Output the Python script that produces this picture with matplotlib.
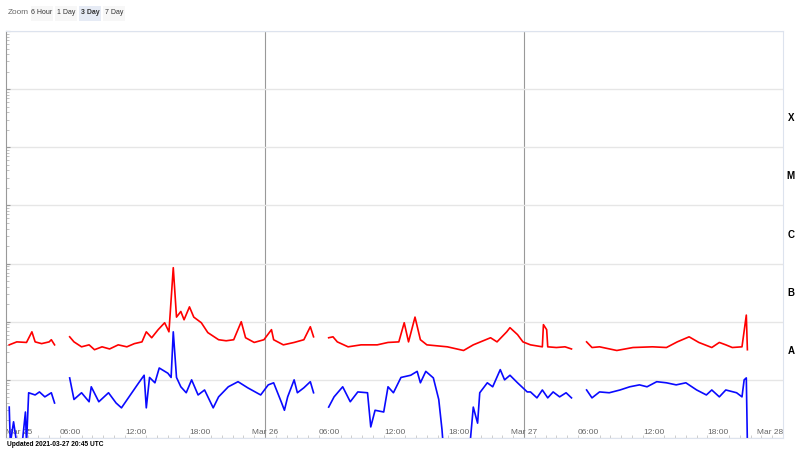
import numpy as np
import matplotlib
matplotlib.use("Agg")
import matplotlib.pyplot as plt
from matplotlib.patches import FancyBboxPatch
from matplotlib.ticker import FixedLocator, LogLocator, NullFormatter

plt.rcParams['font.family'] = ['Liberation Sans', 'DejaVu Sans']

# hours since Mar 25 00:00 UTC, flux in W/m^2 (nan = data gap)
red_hours = [0.3, 1.0, 1.9, 2.4, 2.7, 3.3, 4.0, 4.2, 4.5, 5.2,
             5.9, 6.3, 7.0, 7.7, 8.2, 8.9, 9.6, 10.4, 11.2, 11.9, 12.6, 13.0, 13.5, 14.1,
             14.7, 15.1, 15.5, 15.8, 16.2, 16.5, 17.0, 17.4, 18.1, 18.7, 19.7, 20.4, 21.1,
             21.8, 22.2, 23.0, 23.9, 24.6, 24.8, 25.7, 26.7, 27.6, 28.2, 28.5, 29.2,
             29.9, 30.3, 30.7, 31.7, 32.9, 34.4, 35.4, 36.4, 36.9, 37.3, 37.9, 38.4, 39.0,
             40.9, 42.4, 43.3, 44.9, 45.5, 46.4, 46.7, 47.4, 47.9, 48.6, 49.7, 49.8, 50.1,
             50.2, 51.0, 51.8, 52.4, 53.1,
             53.8, 54.3, 55.0, 56.6, 58.1, 59.9, 61.2, 62.2, 63.3, 64.2, 65.4, 66.1, 66.7,
             67.3, 68.2, 68.6, 68.7]
red_flux = [4.0e-8, 4.5e-8, 4.4e-8, 6.7e-8, 4.5e-8, 4.2e-8, 4.5e-8, 4.9e-8, 4.0e-8, np.nan,
            5.5e-8, 4.5e-8, 3.7e-8, 4.0e-8, 3.3e-8, 3.7e-8, 3.4e-8, 4.0e-8, 3.7e-8, 4.2e-8, 4.5e-8, 6.7e-8, 5.3e-8, 7.3e-8,
            9.6e-8, 6.7e-8, 8.5e-7, 1.2e-7, 1.5e-7, 1.08e-7, 1.8e-7, 1.2e-7, 9.6e-8, 6.5e-8, 4.9e-8, 4.7e-8, 4.9e-8,
            1.0e-7, 5.3e-8, 4.4e-8, 4.9e-8, 7.3e-8, 4.9e-8, 4.0e-8, 4.4e-8, 4.9e-8, 8.2e-8, 5.5e-8, np.nan,
            5.3e-8, 5.5e-8, 4.5e-8, 3.7e-8, 4.0e-8, 4.0e-8, 4.4e-8, 4.5e-8, 9.6e-8, 4.5e-8, 1.2e-7, 4.9e-8, 4.0e-8,
            3.7e-8, 3.2e-8, 4.0e-8, 5.3e-8, 4.5e-8, 6.7e-8, 7.9e-8, 6.0e-8, 4.5e-8, 4.0e-8, 3.7e-8, 8.9e-8, 7.3e-8,
            3.7e-8, 3.6e-8, 3.7e-8, 3.4e-8, np.nan,
            4.5e-8, 3.6e-8, 3.7e-8, 3.2e-8, 3.6e-8, 3.7e-8, 3.6e-8, 4.5e-8, 5.5e-8, 4.4e-8, 3.6e-8, 4.4e-8, 4.0e-8,
            3.6e-8, 3.7e-8, 1.3e-7, 3.3e-8]

blue_hours = [0.3, 0.4, 0.7, 1.0, 1.5, 1.8, 1.9, 2.1, 2.7, 3.1, 3.6, 4.2, 4.5, 5.2,
              5.9, 6.3, 7.0, 7.7, 7.9, 8.6, 9.5, 10.2, 10.7, 11.4, 12.3, 12.8, 13.0, 13.3,
              13.8, 14.2, 15.0, 15.3, 15.5, 15.8, 16.2, 16.7, 17.2, 17.8, 18.4, 19.2, 19.7,
              20.6, 21.5, 22.4, 23.6, 24.3, 24.8, 25.5, 25.8, 26.1, 26.7, 27.0, 27.6, 28.2,
              28.5, 29.2,
              29.9, 30.4, 31.2, 31.9, 32.6, 33.5, 33.8, 34.2, 35.0, 35.4, 35.9, 36.6, 37.5,
              38.1, 38.4, 38.9, 39.6, 40.1, 40.4, 40.5, 41.6, 43.0, 43.3, 43.7, 43.9, 44.6,
              45.1, 45.8, 46.2, 46.7, 47.4, 48.3, 48.6, 49.2, 49.7, 50.2, 50.7, 51.3, 51.9,
              52.4, 53.1,
              53.8, 54.3, 55.0, 55.9, 56.9, 57.8, 58.7, 59.4, 60.3, 61.2, 62.1, 63.0, 64.0,
              64.9, 65.4, 66.1, 66.7, 67.7, 68.2, 68.4, 68.6, 68.7]
blue_flux = [3.4e-9, 8e-10, 1.9e-9, 8e-10, 8e-10, 2.8e-9, 8e-10, 6.0e-9, 5.5e-9, 6.2e-9, 5.1e-9, 6.0e-9, 4.0e-9, np.nan,
             1.08e-8, 4.6e-9, 6.0e-9, 4.2e-9, 7.6e-9, 4.2e-9, 6.0e-9, 4.0e-9, 3.3e-9, 5.1e-9, 8.9e-9, 1.2e-8, 3.3e-9, 1.1e-8,
             8.9e-9, 1.6e-8, 1.3e-8, 1.1e-8, 6.7e-8, 1.1e-8, 7.6e-9, 6.0e-9, 1.0e-8, 5.5e-9, 6.7e-9, 3.3e-9, 5.1e-9,
             7.6e-9, 9.3e-9, 7.3e-9, 5.5e-9, 8.2e-9, 8.9e-9, 4.2e-9, 3.0e-9, 5.1e-9, 1.0e-8, 6.0e-9, 7.3e-9, 9.3e-9,
             6.0e-9, np.nan,
             3.4e-9, 5.1e-9, 7.6e-9, 4.2e-9, 6.2e-9, 6.0e-9, 1.55e-9, 3.0e-9, 2.8e-9, 7.6e-9, 6.0e-9, 1.1e-8, 1.2e-8,
             1.4e-8, 8.9e-9, 1.4e-8, 1.08e-8, 4.6e-9, 1.4e-9, 8e-10, 8e-10, 8e-10, 3.4e-9, 1.8e-9, 6.0e-9, 8.9e-9,
             7.6e-9, 1.5e-8, 1.0e-8, 1.2e-8, 8.9e-9, 6.2e-9, 6.2e-9, 4.9e-9, 6.7e-9, 4.9e-9, 6.2e-9, 5.1e-9, 6.0e-9,
             4.9e-9, np.nan,
             6.7e-9, 4.9e-9, 6.2e-9, 6.0e-9, 6.7e-9, 7.6e-9, 8.2e-9, 7.6e-9, 9.3e-9, 8.9e-9, 8.2e-9, 8.9e-9, 6.7e-9,
             5.5e-9, 6.7e-9, 5.1e-9, 6.7e-9, 6.0e-9, 5.1e-9, 1.0e-8, 1.08e-8, 8e-10]

tick_hours = [0, 6, 12, 18, 24, 30, 36, 42, 48, 54, 60, 66, 72]
tick_labels = ["Mar 25", "06:00", "12:00", "18:00", "Mar 26", "06:00", "12:00", "18:00",
               "Mar 27", "06:00", "12:00", "18:00", "Mar 28"]
day_lines = [24, 48]
class_labels = ["A", "B", "C", "M", "X"]
class_exponents = [-8, -7, -6, -5, -4]
zoom_buttons = ["6 Hour", "1 Day", "3 Day", "7 Day"]
updated_text = "Updated 2021-03-27 20:45 UTC"

fig = plt.figure(figsize=(8, 4.5), dpi=100)
ax = fig.add_axes([6 / 800, 12 / 450, 777 / 800, 407 / 450])

ax.plot(red_hours, red_flux, color='#ff0000', lw=1.2)
ax.plot(blue_hours, blue_flux, color='#0a0aff', lw=1.2)

ax.set_yscale('log')
ax.set_ylim(1e-9, 1e-2)
ax.set_xlim(0, 72)

for h in day_lines:
    ax.axvline(h, color='#999999', lw=0.8, zorder=0)
for e in range(-9, -1):
    ax.axhline(10.0 ** e, color='#e6e6e6', lw=1, zorder=0)

# x axis: labels sit inside the plot bottom, hourly minor ticks
ax.set_xticks(tick_hours)
ax.set_xticklabels(tick_labels)
ax.xaxis.set_minor_locator(FixedLocator(np.arange(0, 73, 1)))
ax.tick_params(axis='x', which='major', length=0, pad=-6.5, labelsize=6, labelcolor='#666666')
ax.tick_params(axis='x', which='minor', direction='in', length=2, width=0.5, color='#bbbbbb')
ax.get_xticklabels()[0].set_horizontalalignment('left')
ax.get_xticklabels()[-1].set_horizontalalignment('right')

ax.yaxis.set_major_locator(LogLocator(base=10, numticks=12))
ax.yaxis.set_minor_locator(LogLocator(base=10, subs=np.arange(2, 10), numticks=12))
ax.yaxis.set_major_formatter(NullFormatter())
ax.yaxis.set_minor_formatter(NullFormatter())
ax.tick_params(axis='y', which='major', direction='in', length=3, width=0.8, color='#999999')
ax.tick_params(axis='y', which='minor', direction='in', length=2, width=0.5, color='#aaaaaa')

ax.spines['left'].set_color('#999999')
for s in ['top', 'bottom', 'right']:
    ax.spines[s].set_color('#dde3ee')

# flare classes on the right
for lab, e in zip(class_labels, class_exponents):
    ax.text(1.01, 10.0 ** (e + 0.5), lab, transform=ax.get_yaxis_transform(),
            ha='center', va='center', fontsize=7, fontweight='bold')

# zoom buttons
fig.text(8 / 800, 1 - 13 / 450, "Zoom", fontsize=5.9, color='#666666', va='center')
bx = 31
for lab in zoom_buttons:
    sel = lab == "3 Day"
    w = 22
    fig.patches.append(FancyBboxPatch((bx / 800, 1 - 21 / 450), w / 800, 15 / 450,
                                      boxstyle="square,pad=0", transform=fig.transFigure,
                                      facecolor='#e6ebf5' if sel else '#f7f7f7',
                                      edgecolor='none'))
    fig.text((bx + w / 2) / 800, 1 - 13 / 450, lab, fontsize=5, ha='center', va='center',
             color='#333333', fontweight='bold' if sel else 'normal')
    bx += w + 2

fig.text(7 / 800, 1 - 445 / 450, updated_text, fontsize=4.8, fontweight='bold', va='center')

fig.savefig("out.png", dpi=100)
